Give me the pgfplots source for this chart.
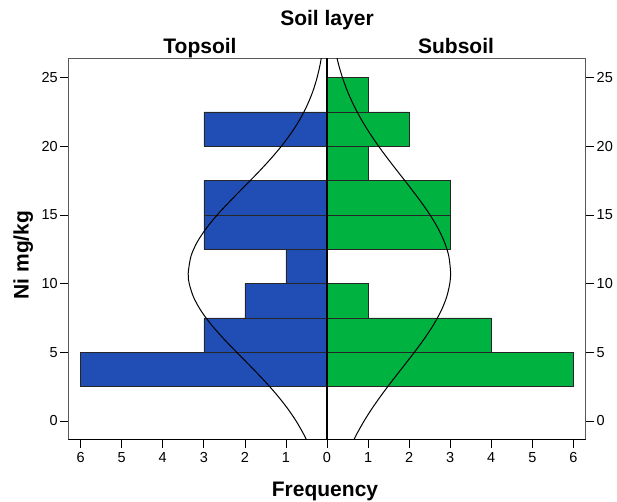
\documentclass[border=0pt]{standalone}
\usepackage{fontspec}
\setmainfont{Liberation Sans}
\usepackage{pgfplots}
\usepackage{pgfplotstable}
\pgfplotsset{compat=1.18}

\definecolor{topblue}{RGB}{32,78,180}
\definecolor{subgreen}{RGB}{0,178,64}
\definecolor{framegray}{RGB}{90,90,90}

% Frequencies per 2.5 mg/kg class (class centre, count)
\pgfplotstableread{
y     f
3.75  6
6.25  3
8.75  2
11.25 1
13.75 3
16.25 3
21.25 3
}\topsoil
\pgfplotstableread{
y     f
3.75  6
6.25  4
8.75  1
13.75 3
16.25 3
18.75 1
21.25 2
23.75 1
}\subsoil

\pgfplotsset{
  pyr/.style={
    at={(68.3pt,62.7pt)}, anchor=south west,
    scale only axis, width=517.4pt, height=381pt,
    xmin=-6.3, xmax=6.3, ymin=-1.332, ymax=26.4,
    ytick={0,5,...,25},
    tick align=outside,
    major tick length=8.5pt,
    tick style={black, line width=0.7pt},
    /pgf/number format/assume math mode=true,
    tick label style={font=\fontsize{14.5}{17}\selectfont},
    axis line style={framegray, line width=0.8pt},
  },
  hbar/.style={xbar, bar shift=0pt, bar width=2.5,
    draw=black!85, line width=0.6pt},
}

\begin{document}
\begin{tikzpicture}
\path[use as bounding box] (0,0) rectangle (617pt,502pt);

\begin{axis}[pyr,
  xtick={-6,...,6},
  xticklabels={6,5,4,3,2,1,0,1,2,3,4,5,6},
  xtick pos=bottom, ytick pos=left,
  yticklabel style={xshift=1.5pt},
  xticklabel style={yshift=-1pt},
]
  \addplot[hbar, fill=topblue] table[x expr=-\thisrow{f}, y=y] {\topsoil};
  \addplot[hbar, fill=subgreen] table[x=f, y=y] {\subsoil};

  % fitted normal curve, topsoil
  \addplot[smooth, black, line width=1pt] coordinates {
    (-0.480,-1.5) (-0.561,-1) (-0.752,0) (-0.982,1) (-1.249,2) (-1.547,3)
    (-1.869,4) (-2.198,5) (-2.520,6) (-2.815,7) (-3.063,8) (-3.248,9)
    (-3.355,10) (-3.380,10.75) (-3.312,12) (-3.165,13) (-2.946,14)
    (-2.673,15) (-2.362,16) (-2.034,17) (-1.706,18) (-1.395,19)
    (-1.111,20) (-0.862,21) (-0.652,22) (-0.480,23) (-0.344,24)
    (-0.241,25) (-0.164,26) (-0.109,27)
  };
  % fitted normal curve, subsoil
  \addplot[smooth, black, line width=1pt] coordinates {
    (0.632,-1.5) (0.715,-1) (0.903,0) (1.117,1) (1.354,2) (1.606,3)
    (1.868,4) (2.127,5) (2.373,6) (2.593,7) (2.776,8) (2.911,9)
    (2.990,10) (3.010,10.8) (2.966,12) (2.863,13) (2.708,14)
    (2.509,15) (2.277,16) (2.024,17) (1.763,18) (1.504,19)
    (1.256,20) (1.029,21) (0.825,22) (0.648,23) (0.498,24)
    (0.376,25) (0.277,26) (0.200,27)
  };

  \draw[black, line width=1.6pt] (axis cs:0,-1.332) -- (axis cs:0,26.4);
  \draw[black, line width=1.4pt] (rel axis cs:0,0) -- (rel axis cs:1,0);
\end{axis}

\begin{axis}[pyr,
  axis x line=none, axis y line*=right,
  yticklabel pos=right,
  yticklabel style={xshift=-1pt},
]
  \addplot[draw=none] coordinates {(0,0)};
\end{axis}

\node[font=\fontsize{21}{24}\selectfont\bfseries, anchor=base] at (327pt,476pt) {Soil layer};
\node[font=\fontsize{21}{24}\selectfont\bfseries, anchor=base] at (200pt,448.7pt) {Topsoil};
\node[font=\fontsize{21}{24}\selectfont\bfseries, anchor=base] at (456pt,448.7pt) {Subsoil};
\node[font=\fontsize{21}{24}\selectfont\bfseries, anchor=base] at (325pt,5.3pt) {Frequency};
\node[font=\fontsize{21}{24}\selectfont\bfseries, anchor=base, rotate=90] at (28.5pt,247pt) {Ni mg/kg};
\end{tikzpicture}
\end{document}
